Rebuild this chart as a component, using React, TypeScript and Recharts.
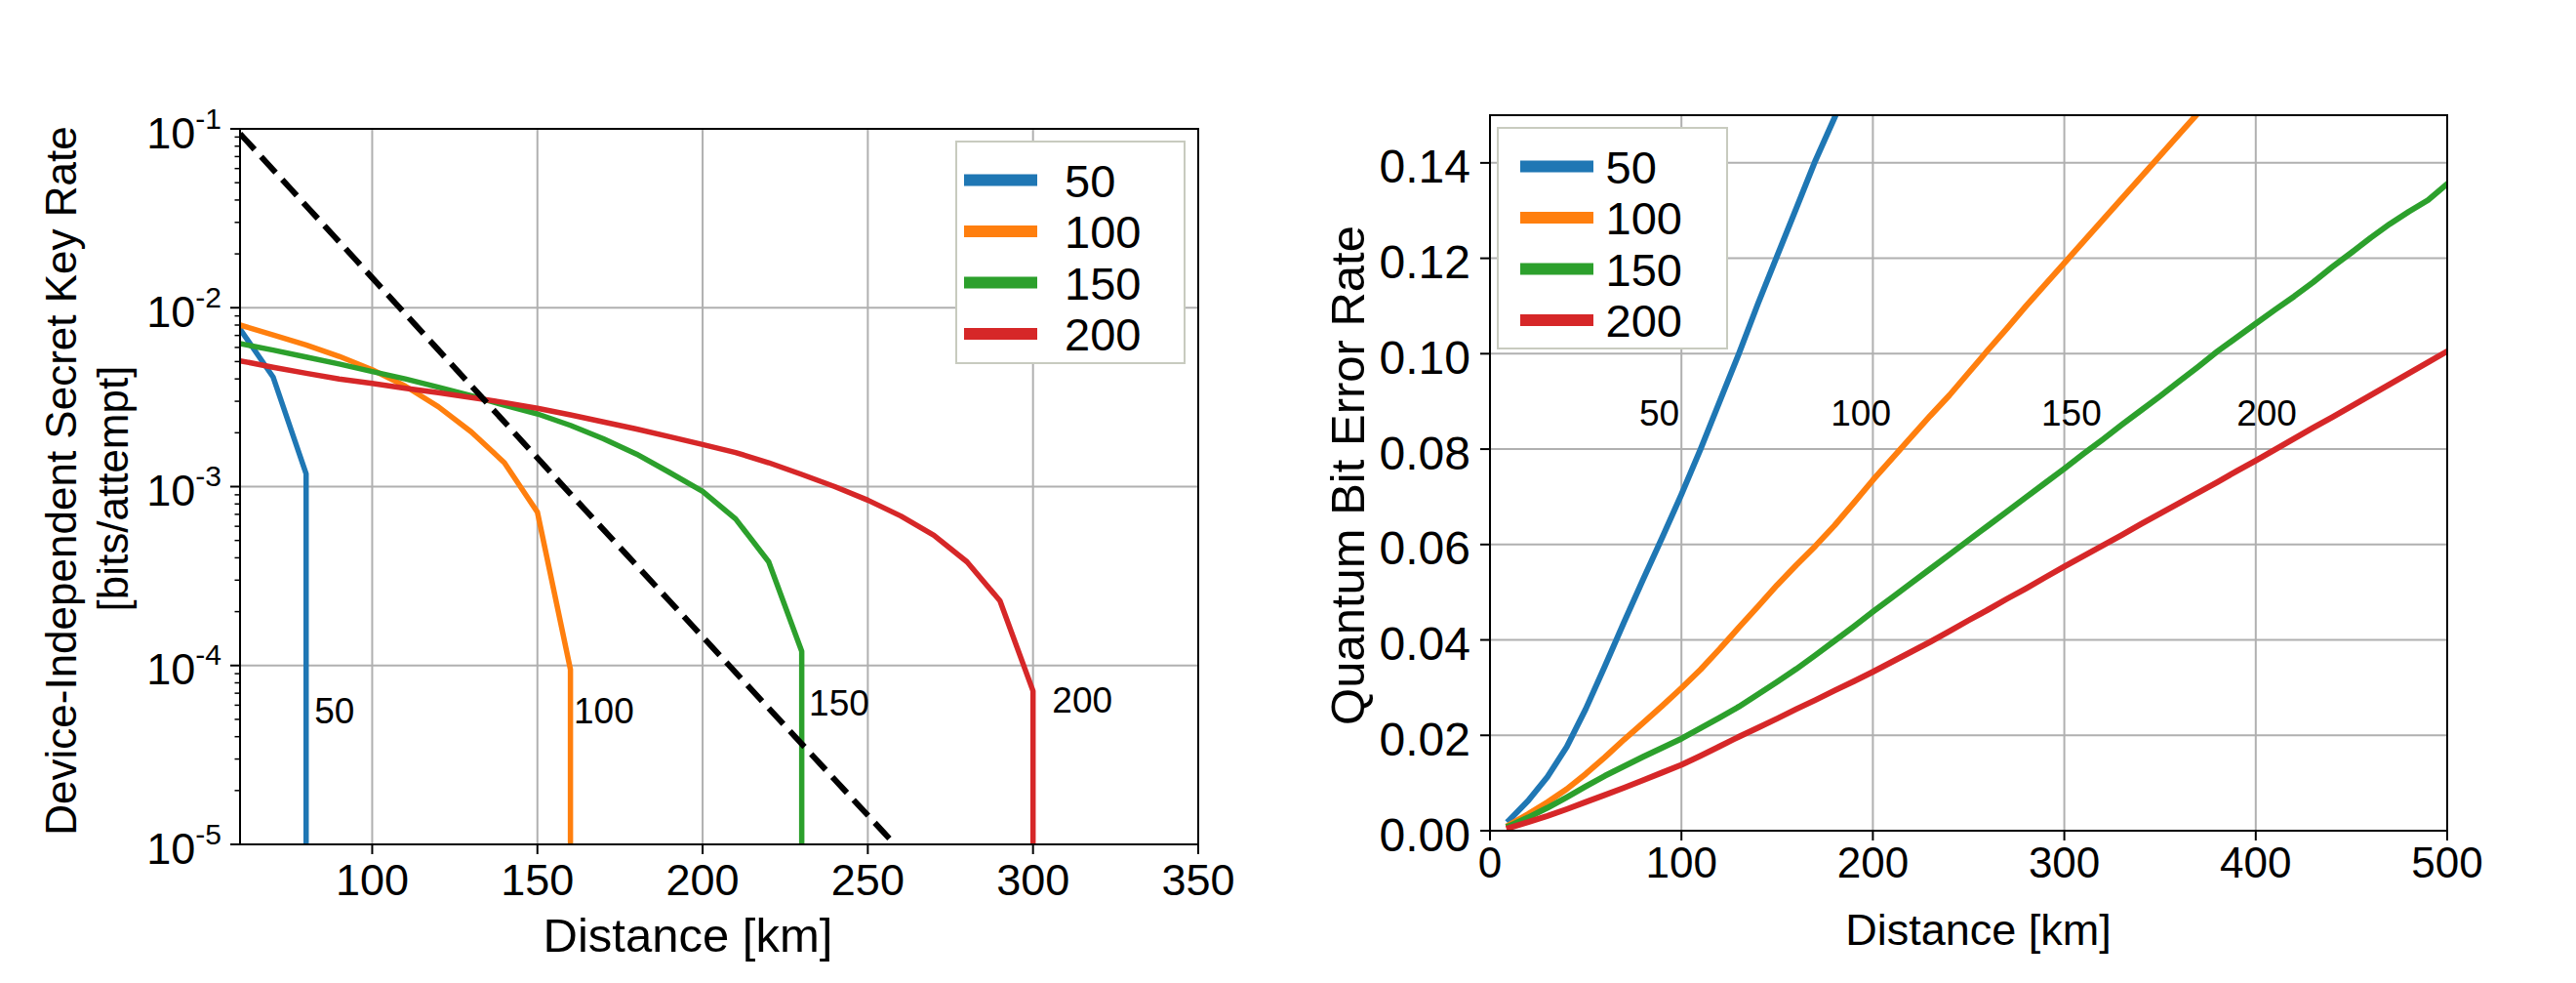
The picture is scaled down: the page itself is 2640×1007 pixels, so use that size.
import { LineChart, Line, XAxis, YAxis, CartesianGrid, Legend, ReferenceDot } from 'recharts'

const seriesNames = ['50', '100', '150', '200']
const seriesColors = ['#1f77b4', '#ff7f0e', '#2ca02c', '#d62728']

// left panel: DI secret key rate [bits/attempt] vs distance [km]; last pair of each series is the drop to zero rate
const rate50: [number, number][] = [[60, 7.6e-3], [70, 4.1e-3], [80, 1.18e-3], [80, 1e-8]]
const rate100: [number, number][] = [
    [60, 8.0e-3], [70, 7.05e-3], [80, 6.2e-3], [90, 5.35e-3], [100, 4.5e-3], [110, 3.65e-3],
    [120, 2.8e-3], [130, 2.02e-3], [140, 1.36e-3], [150, 7.2e-4], [160, 9.5e-5], [160, 1e-8],
]
const rate150: [number, number][] = [
    [60, 6.3e-3], [70, 5.8e-3], [80, 5.3e-3], [90, 4.85e-3], [100, 4.4e-3], [110, 4.0e-3],
    [120, 3.6e-3], [130, 3.22e-3], [140, 2.85e-3], [150, 2.55e-3], [160, 2.2e-3], [170, 1.85e-3],
    [180, 1.52e-3], [190, 1.2e-3], [200, 9.4e-4], [210, 6.6e-4], [220, 3.8e-4], [230, 1.2e-4], [230, 1e-8],
]
const rate200: [number, number][] = [
    [60, 5.05e-3], [70, 4.65e-3], [80, 4.3e-3], [90, 4.0e-3], [100, 3.78e-3], [110, 3.55e-3],
    [120, 3.35e-3], [130, 3.15e-3], [140, 2.95e-3], [150, 2.74e-3], [160, 2.52e-3], [170, 2.3e-3],
    [180, 2.1e-3], [190, 1.9e-3], [200, 1.72e-3], [210, 1.55e-3], [220, 1.36e-3], [230, 1.17e-3],
    [240, 1.0e-3], [250, 8.4e-4], [260, 6.85e-4], [270, 5.35e-4], [280, 3.8e-4], [290, 2.3e-4],
    [300, 7.2e-5], [300, 1e-8],
]
// dashed repeaterless bound
const rateBound: [number, number][] = [[60, 0.094], [160, 9.1e-4], [270, 5.8e-6]]
const rateXTicks = [100, 150, 200, 250, 300, 350]
const rateDecades = [1e-5, 1e-4, 1e-3, 1e-2, 1e-1]
const rateMinorSteps = [2, 3, 4, 5, 6, 7, 8, 9]
const rateCurveLabels = [
    { x: 82.5, y: 4.75e-5, text: '50' },
    { x: 161, y: 4.75e-5, text: '100' },
    { x: 232.2, y: 5.25e-5, text: '150' },
    { x: 305.8, y: 5.45e-5, text: '200' },
]

// right panel: QBER vs distance [km]
const qberDistances = [
    10, 20, 30, 40, 50, 60, 70, 80, 90, 100, 110, 120, 130, 140, 150, 160, 170, 180, 190, 200,
    210, 220, 230, 240, 250, 260, 270, 280, 290, 300, 310, 320, 330, 340, 350, 360, 370, 380, 390, 400,
    410, 420, 430, 440, 450, 460, 470, 480, 490, 500,
]
const qber50 = [
    0.0022, 0.0063, 0.0113, 0.0175, 0.0255, 0.0345, 0.0437, 0.0527, 0.0615, 0.0705,
    0.08, 0.09, 0.1, 0.1105, 0.1205, 0.1305, 0.1405, 0.1495, 0.1585,
]
const qber100 = [
    0.0012, 0.0035, 0.006, 0.0087, 0.0119, 0.0154, 0.0191, 0.0226, 0.0262, 0.0299,
    0.0338, 0.0381, 0.0426, 0.047, 0.0515, 0.0557, 0.0597, 0.064, 0.0687, 0.0735,
    0.078, 0.0825, 0.087, 0.0913, 0.096, 0.1007, 0.1053, 0.11, 0.1145, 0.119,
    0.1235, 0.128, 0.1325, 0.137, 0.1415, 0.146, 0.1505, 0.155,
]
const qber150 = [
    0.001, 0.0028, 0.0048, 0.007, 0.0093, 0.0115, 0.0135, 0.0155, 0.0174, 0.0193,
    0.0215, 0.0237, 0.026, 0.0286, 0.0312, 0.0339, 0.0368, 0.0398, 0.0428, 0.0459,
    0.0489, 0.0519, 0.0549, 0.0579, 0.0609, 0.0639, 0.0669, 0.0699, 0.0729, 0.0759,
    0.079, 0.082, 0.0851, 0.0881, 0.0911, 0.0942, 0.0973, 0.1005, 0.1034, 0.1063,
    0.1092, 0.112, 0.115, 0.1182, 0.1212, 0.1243, 0.1272, 0.1298, 0.1322, 0.1356,
]
const qber200 = [
    0.0006, 0.0018, 0.0031, 0.0045, 0.006, 0.0075, 0.009, 0.0106, 0.0122, 0.0138,
    0.0157, 0.0177, 0.0197, 0.0216, 0.0235, 0.0255, 0.0274, 0.0294, 0.0313, 0.0333,
    0.0354, 0.0375, 0.0396, 0.0418, 0.0441, 0.0463, 0.0486, 0.0508, 0.0531, 0.0554,
    0.0576, 0.0598, 0.062, 0.0643, 0.0665, 0.0687, 0.0709, 0.0731, 0.0754, 0.0776,
    0.0799, 0.0822, 0.0845, 0.0867, 0.089, 0.0913, 0.0936, 0.0959, 0.0982, 0.1005,
]
const qberXTicks = [0, 100, 200, 300, 400, 500]
const qberYTicks = [0, 0.02, 0.04, 0.06, 0.08, 0.1, 0.12, 0.14]
const qberCurveLabels = [
    { x: 78, y: 0.085, text: '50' },
    { x: 178, y: 0.085, text: '100' },
    { x: 288, y: 0.085, text: '150' },
    { x: 390, y: 0.085, text: '200' },
]

const FONT = "'Liberation Sans', Arial, Helvetica, sans-serif"
const GRID = '#b0b0b0'

const pairsToPoints = (pairs: [number, number][]) => pairs.map(([x, y]) => ({ x, y }))
const qberToPoints = (values: number[]) => values.map((y, i) => ({ x: qberDistances[i], y }))

const rateSeries = [rate50, rate100, rate150, rate200].map(pairsToPoints)
const qberSeries = [qber50, qber100, qber150, qber200].map(qberToPoints)
const rateYTicks = [
    ...rateDecades,
    ...rateDecades.slice(0, -1).flatMap(d => rateMinorSteps.map(k => k * d)),
].sort((a, b) => a - b)

function DecadeTick({ x, y, payload }: any) {
    const lg = Math.log10(payload.value)
    const exp = Math.round(lg)
    if (Math.abs(lg - exp) > 1e-6) {
        return <line x1={x - 5.5} x2={x} y1={y} y2={y} stroke="#000" strokeWidth={1.5} />
    }
    return (
        <g>
            <line x1={x - 10} x2={x} y1={y} y2={y} stroke="#000" strokeWidth={2} />
            <text x={x - 19} y={y + 19.7} textAnchor="end" fontSize={45} fill="#000">
                10<tspan dy={-20} fontSize={30}>{exp}</tspan>
            </text>
        </g>
    )
}

const makeXTick = (fontSize: number, shift: number) => ({ x, y, payload }: any) => (
    <text x={x} y={y + shift} textAnchor="middle" fontSize={fontSize} fill="#000">
        {payload.value}
    </text>
)

function QberYTick({ x, y, payload }: any) {
    return (
        <text x={x} y={y + 20.5} textAnchor="end" fontSize={48} fill="#000">
            {payload.value.toFixed(2)}
        </text>
    )
}

const makeLegend = (w: number, h: number, handleX: number, textX: number) => ({ payload }: any) => {
    const items = (payload || [])
        .filter((p: any) => p.type !== 'none')
        .sort((a: any, b: any) => seriesNames.indexOf(a.value) - seriesNames.indexOf(b.value))
    return (
        <svg width={w} height={h} style={{ display: 'block' }}>
            <rect x={1} y={1} width={w - 2} height={h - 2} fill="#fff" stroke="#c8cbbf" strokeWidth={2} />
            {items.map((p: any, i: number) => (
                <g key={p.value}>
                    <line x1={handleX} x2={handleX + 75} y1={40.5 + i * 52.5} y2={40.5 + i * 52.5}
                        stroke={p.color} strokeWidth={12} />
                    <text x={textX} y={58 + i * 52.3} fontSize={47} fill="#000">{p.value}</text>
                </g>
            ))}
        </svg>
    )
}

const curveLabel = (text: string) => (p: any) => (
    <text x={p.cx} y={p.cy} fontSize={37} fill="#000">{text}</text>
)

const frameStyle = (left: number, top: number, width: number, height: number): React.CSSProperties => ({
    position: 'absolute', left, top, width, height, border: '2px solid #000',
    boxSizing: 'border-box', pointerEvents: 'none',
})

function KeyRatePanel() {
    return (
        <LineChart width={1300} height={1007} margin={{ top: 132, right: 72, bottom: 0, left: 0 }}>
            <CartesianGrid stroke={GRID} strokeWidth={2} horizontalValues={[1e-4, 1e-3, 1e-2]} />
            <XAxis
                dataKey="x" type="number" domain={[60, 350]} allowDataOverflow ticks={rateXTicks}
                height={142} axisLine={false} tickSize={10} tickMargin={10} interval={0}
                tickLine={{ stroke: '#000', strokeWidth: 2 }} tick={makeXTick(45, 32)}
                label={({ viewBox }: any) => (
                    <text x={viewBox.x + viewBox.width / 2 - 32} y={viewBox.y + 110}
                        textAnchor="middle" fontSize={49} fill="#000">Distance [km]</text>
                )}
            />
            <YAxis
                dataKey="y" type="number" scale="log" domain={[1e-5, 1e-1]} allowDataOverflow
                ticks={rateYTicks} interval={0} width={246} axisLine={false}
                tickLine={false} tickSize={0} tickMargin={0} tick={DecadeTick}
                label={({ viewBox }: any) => {
                    const cy = viewBox.y + viewBox.height / 2
                    return (
                        <g fontSize={44} fill="#000">
                            <text x={78} y={cy - 6} textAnchor="middle" transform={`rotate(-90 78 ${cy - 6})`}>
                                Device-Independent Secret Key Rate
                            </text>
                            <text x={131} y={cy + 2} textAnchor="middle" transform={`rotate(-90 131 ${cy + 2})`}>
                                [bits/attempt]
                            </text>
                        </g>
                    )
                }}
            />
            {rateSeries.map((data, i) => (
                <Line key={seriesNames[i]} data={data} dataKey="y" name={seriesNames[i]}
                    stroke={seriesColors[i]} strokeWidth={5.5} strokeLinejoin="round" strokeLinecap="square"
                    dot={false} activeDot={false} isAnimationActive={false} />
            ))}
            <Line data={pairsToPoints(rateBound)} dataKey="y" name="bound" legendType="none"
                stroke="#000" strokeWidth={6} strokeDasharray="22 10"
                dot={false} activeDot={false} isAnimationActive={false} />
            {rateCurveLabels.map(l => (
                <ReferenceDot key={l.text} x={l.x} y={l.y} r={0} shape={curveLabel(l.text)} />
            ))}
            <Legend layout="horizontal" verticalAlign="middle" align="center"
                wrapperStyle={{ left: 979, top: 144, width: 236, height: 229, lineHeight: 0 }}
                content={makeLegend(236, 229, 9, 112)} />
        </LineChart>
    )
}

function QberPanel() {
    return (
        <LineChart width={1340} height={1007} margin={{ top: 118, right: 132, bottom: 0, left: 0 }}>
            <CartesianGrid stroke={GRID} strokeWidth={2} />
            <XAxis
                dataKey="x" type="number" domain={[0, 500]} allowDataOverflow ticks={qberXTicks}
                height={156} axisLine={false} tickSize={10} tickMargin={7} interval={0}
                tickLine={{ stroke: '#000', strokeWidth: 2 }} tick={makeXTick(44, 31)}
                label={({ viewBox }: any) => (
                    <text x={viewBox.x + viewBox.width / 2 + 10} y={viewBox.y + 117}
                        textAnchor="middle" fontSize={45} fill="#000">Distance [km]</text>
                )}
            />
            <YAxis
                dataKey="y" type="number" domain={[0, 0.15]} allowDataOverflow ticks={qberYTicks}
                interval={0} width={227} axisLine={false} tickSize={10} tickMargin={10}
                tickLine={{ stroke: '#000', strokeWidth: 2 }} tick={QberYTick}
                label={({ viewBox }: any) => {
                    const cy = viewBox.y + viewBox.height / 2 + 2.5
                    return (
                        <text x={98} y={cy} textAnchor="middle" fontSize={49} fill="#000"
                            transform={`rotate(-90 98 ${cy})`}>Quantum Bit Error Rate</text>
                    )
                }}
            />
            {qberSeries.map((data, i) => (
                <Line key={seriesNames[i]} data={data} dataKey="y" name={seriesNames[i]}
                    stroke={seriesColors[i]} strokeWidth={6} strokeLinejoin="round" strokeLinecap="square"
                    dot={false} activeDot={false} isAnimationActive={false} />
            ))}
            {qberCurveLabels.map(l => (
                <ReferenceDot key={l.text} x={l.x} y={l.y} r={0} shape={curveLabel(l.text)} />
            ))}
            <Legend layout="horizontal" verticalAlign="middle" align="center"
                wrapperStyle={{ left: 234, top: 130, width: 237, height: 228, lineHeight: 0 }}
                content={makeLegend(237, 228, 24, 111.6)} />
        </LineChart>
    )
}

export default function App() {
    return (
        <div style={{ position: 'absolute', left: 0, top: 0, width: 2640, height: 1007, background: '#fff', fontFamily: FONT, overflow: 'hidden' }}>
            <div style={{ position: 'absolute', left: 0, top: 0 }}>
                <KeyRatePanel />
            </div>
            <div style={{ position: 'absolute', left: 1300, top: 0 }}>
                <QberPanel />
            </div>
            <div style={frameStyle(245, 131, 984, 735)} />
            <div style={frameStyle(1526, 117, 983, 735)} />
        </div>
    )
}
